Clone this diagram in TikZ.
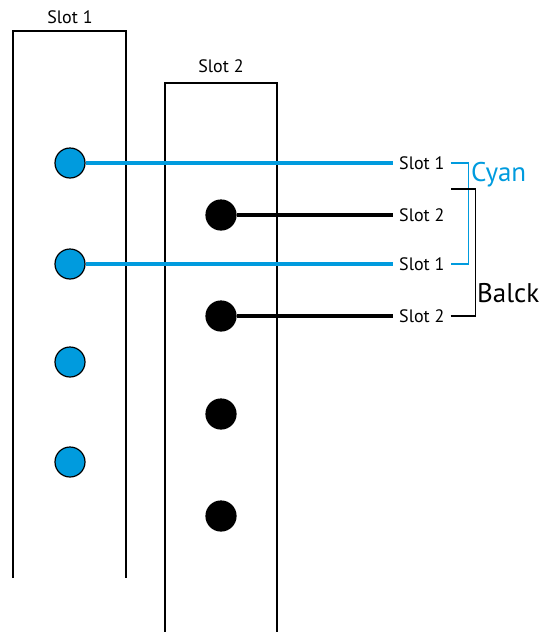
\documentclass[tikz,border=0pt]{standalone}
\usepackage{fontspec}
\setmainfont{PT Sans}
\usepackage{tikz}
\usetikzlibrary{positioning}

\definecolor{cyanwire}{RGB}{0,155,222}

\tikzset{
	slot/.style={line width=1.3pt},
	pin/.style={circle, draw, line width=1.2pt, minimum size=30pt, inner sep=0pt},
	cyan pin/.style={pin, fill=cyanwire},
	black pin/.style={pin, fill=black},
	wire/.style={line width=4.5pt},
	end label/.style={anchor=west, inner xsep=6pt, inner ysep=3pt, font=\fontsize{18}{20}\selectfont},
	group label/.style={anchor=base west, inner sep=0pt, font=\fontsize{27}{30}\selectfont}
}

\begin{document}
\begin{tikzpicture}[x=1pt, y=-1pt]
	\useasboundingbox (0,0) rectangle (545,632);
	
	% open-bottomed slot frames
	\draw [slot] (13,578) |- (126,31) -- (126,578);
	\draw [slot] (165,632) |- (277,83) -- (277,632);
	\node [end label, anchor=center] (slot-1) at (70,17) {Slot 1};
	\node [end label, anchor=center] (slot-2) at (221,66) {Slot 2};
	
	\foreach \y [count=\i] in {163,264,362,462}
	\node [cyan pin] (cyan-\i) at (70,\y) {};
	
	\foreach \y [count=\i] in {215,316,414,516}
	\node [black pin] (black-\i) at (221,\y) {};
	
	\foreach \l/\y [count=\i] in {1/163,2/215,1/264,2/316}
	\node [end label] (end-\i) at (393,\y) {Slot \l};
	
	\draw [wire, cyanwire] (cyan-1) -- (end-1.west);
	\draw [wire, cyanwire] (cyan-2) -- (end-3.west);
	\draw [wire] (black-1) -- (end-2.west);
	\draw [wire] (black-2) -- (end-4.west);
	
	% brackets grouping the wire ends
	\draw [slot, cyanwire] (end-1.east) -- ++(18,0) |- (end-3.east);
	\coordinate (black-top) at (451,189);
	\draw [slot] (end-4.east) -- ++(25,0) |- (black-top);
	
	\node [group label, text=cyanwire] (cyan-name) at (471,181) {Cyan};
	\node [group label] (black-name) at (477,302) {Balck};
	
\end{tikzpicture}
\end{document}
